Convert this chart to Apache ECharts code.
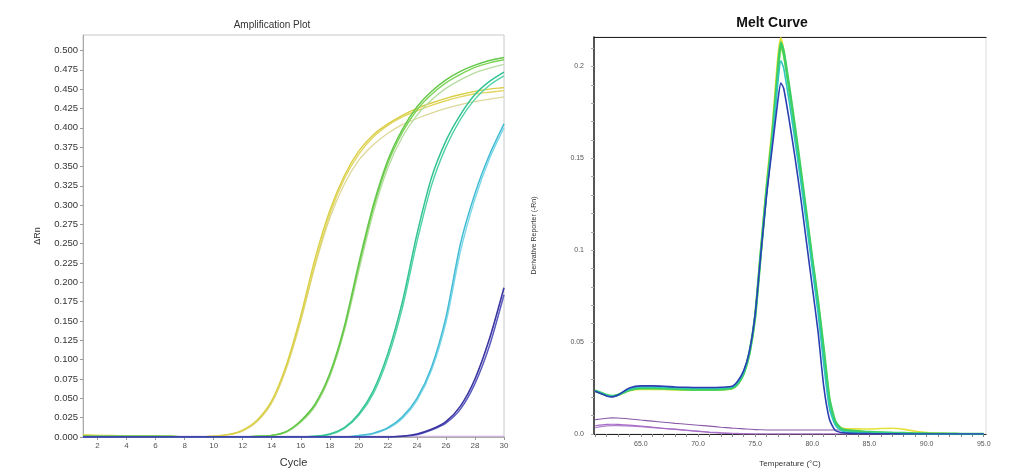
<!DOCTYPE html>
<html>
<head>
<meta charset="utf-8">
<script src="https://cdn.jsdelivr.net/npm/echarts@6/dist/echarts.min.js"></script>
<style>html,body{margin:0;padding:0;background:#fff;}#c{width:1021px;height:473px;}</style>
</head>
<body>
<div id="c"></div>
<script>
// ---------- Amplification plot data ----------
var ampCycles = [1,2,3,4,5,6,7,8,9,10,11,12,13,14,15,16,17,18,19,20,21,22,23,24,25,26,27,28,29,30];
var ampXLabels = [2,4,6,8,10,12,14,16,18,20,22,24,26,28,30];
var ampYLabels = [0,0.025,0.05,0.075,0.1,0.125,0.15,0.175,0.2,0.225,0.25,0.275,0.3,0.325,0.35,0.375,0.4,0.425,0.45,0.475,0.5];

var ampYellow1 = [0.003,0.002,0.002,0.001,0.001,0.001,0.001,0.000,0.000,0.001,0.003,0.009,0.022,0.047,0.093,0.157,0.232,0.293,0.338,0.370,0.391,0.405,0.416,0.425,0.432,0.438,0.443,0.447,0.450,0.452];
var ampYellow2 = [0.002,0.002,0.001,0.001,0.001,0.001,0.000,0.000,0.000,0.001,0.003,0.008,0.021,0.045,0.090,0.152,0.225,0.288,0.334,0.366,0.388,0.403,0.414,0.422,0.429,0.435,0.440,0.444,0.446,0.448];
var ampYellow3 = [0.002,0.001,0.001,0.001,0.001,0.000,0.000,0.000,0.000,0.001,0.003,0.008,0.020,0.044,0.088,0.150,0.222,0.283,0.327,0.358,0.378,0.393,0.404,0.412,0.419,0.425,0.430,0.434,0.437,0.440];
var ampGreen1 = [0.001,0.001,0.001,0.001,0.001,0.001,0.001,0.000,0.000,0.000,0.000,0.000,0.001,0.002,0.007,0.021,0.043,0.082,0.143,0.225,0.300,0.358,0.398,0.427,0.447,0.462,0.473,0.481,0.487,0.491];
var ampGreen2 = [0.001,0.001,0.001,0.001,0.001,0.001,0.000,0.000,0.000,0.000,0.000,0.000,0.001,0.002,0.006,0.019,0.040,0.078,0.137,0.215,0.290,0.348,0.388,0.416,0.436,0.451,0.462,0.471,0.477,0.482];
var ampGreen3 = [0.001,0.001,0.001,0.001,0.001,0.001,0.001,0.000,0.000,0.000,0.000,0.000,0.001,0.002,0.007,0.020,0.042,0.080,0.140,0.221,0.296,0.354,0.394,0.423,0.443,0.458,0.469,0.478,0.484,0.488];
var ampTeal1 = [0.000,0.000,0.000,0.000,0.000,0.000,0.000,0.000,0.000,0.000,0.000,0.000,0.000,0.000,0.000,0.000,0.001,0.004,0.012,0.030,0.060,0.108,0.175,0.262,0.335,0.383,0.417,0.443,0.460,0.472];
var ampTeal2 = [0.000,0.000,0.000,0.000,0.000,0.000,0.000,0.000,0.000,0.000,0.000,0.000,0.000,0.000,0.000,0.000,0.001,0.003,0.011,0.028,0.056,0.102,0.167,0.252,0.325,0.375,0.411,0.437,0.455,0.467];
var ampCyan1 = [0.000,0.000,0.000,0.000,0.000,0.000,0.000,0.000,0.000,0.000,0.000,0.000,0.000,0.000,0.000,0.000,0.000,0.000,0.000,0.002,0.005,0.012,0.026,0.050,0.090,0.155,0.250,0.315,0.365,0.405];
var ampCyan2 = [0.000,0.000,0.000,0.000,0.000,0.000,0.000,0.000,0.000,0.000,0.000,0.000,0.000,0.000,0.000,0.000,0.000,0.000,0.000,0.001,0.004,0.011,0.024,0.047,0.086,0.148,0.240,0.308,0.360,0.400];
var ampBlue1 = [0.000,0.000,0.000,0.000,0.000,0.000,0.000,0.000,0.000,0.000,0.000,0.000,0.000,0.000,0.000,0.000,0.000,0.000,0.000,0.000,0.000,0.000,0.001,0.004,0.010,0.020,0.040,0.075,0.127,0.193];
var ampBlue2 = [0.000,0.000,0.000,0.000,0.000,0.000,0.000,0.000,0.000,0.000,0.000,0.000,0.000,0.000,0.000,0.000,0.000,0.000,0.000,0.000,0.000,0.000,0.001,0.003,0.009,0.018,0.036,0.069,0.118,0.184];
var ampNtc = [0.001,0.001,0.001,0.001,0.001,0.001,0.001,0.001,0.001,0.001,0.001,0.001,0.001,0.001,0.001,0.001,0.001,0.001,0.001,0.001,0.001,0.001,0.001,0.001,0.001,0.001,0.001,0.001,0.001,0.001];

// ---------- Melt curve data ----------
var meltTemps = [61,62,62.5,63,64,65,66,67,68,69,70,71,72,73,73.5,74,74.5,75,75.5,76,76.5,77,77.25,77.5,78,78.5,79,79.5,80,80.5,81,81.5,82,82.5,83,84,85,86,87,88,89,90,91,92,93,94,95];
var meltXLabels = [65,70,75,80,85,90,95];
var meltYLabels = [0,0.05,0.1,0.15,0.2];

var meltYellow = [0.0236,0.0210,0.0206,0.0211,0.0236,0.0243,0.0243,0.0242,0.0240,0.0238,0.0238,0.0238,0.0239,0.0246,0.0272,0.0330,0.0445,0.0650,0.1010,0.1370,0.1680,0.2060,0.2155,0.2090,0.1870,0.1640,0.1410,0.1170,0.0930,0.0700,0.0430,0.0170,0.0060,0.0035,0.0028,0.0028,0.0027,0.0030,0.0031,0.0025,0.0015,0.0008,0.0005,0.0003,0.0001,0.0000,0.0000];
var meltGreen = [0.0235,0.0212,0.0207,0.0213,0.0240,0.0250,0.0250,0.0249,0.0246,0.0244,0.0243,0.0243,0.0244,0.0250,0.0275,0.0330,0.0440,0.0640,0.0990,0.1330,0.1620,0.1990,0.2130,0.2080,0.1880,0.1660,0.1430,0.1190,0.0950,0.0720,0.0460,0.0190,0.0070,0.0030,0.0020,0.0015,0.0010,0.0008,0.0006,0.0005,0.0003,0.0002,0.0001,0.0001,0.0000,0.0000,0.0000];
var meltLime = [0.0234,0.0211,0.0206,0.0212,0.0238,0.0246,0.0246,0.0245,0.0243,0.0241,0.0240,0.0240,0.0241,0.0248,0.0273,0.0328,0.0438,0.0636,0.0985,0.1325,0.1615,0.1975,0.2105,0.2060,0.1865,0.1650,0.1420,0.1185,0.0945,0.0715,0.0455,0.0185,0.0068,0.0030,0.0020,0.0014,0.0010,0.0008,0.0006,0.0004,0.0003,0.0002,0.0001,0.0000,0.0000,0.0000,0.0000];
var meltTeal = [0.0236,0.0210,0.0205,0.0212,0.0245,0.0256,0.0256,0.0255,0.0252,0.0250,0.0249,0.0249,0.0250,0.0256,0.0283,0.0338,0.0445,0.0645,0.0985,0.1315,0.1590,0.1920,0.2030,0.1990,0.1800,0.1590,0.1370,0.1140,0.0900,0.0660,0.0380,0.0140,0.0050,0.0020,0.0010,0.0007,0.0005,0.0004,0.0003,0.0002,0.0001,0.0001,0.0000,0.0000,0.0000,0.0000,0.0000];
var meltBlue = [0.0232,0.0207,0.0202,0.0212,0.0250,0.0262,0.0262,0.0260,0.0256,0.0254,0.0253,0.0253,0.0254,0.0260,0.0290,0.0345,0.0450,0.0650,0.0980,0.1300,0.1560,0.1820,0.1910,0.1880,0.1700,0.1500,0.1280,0.1040,0.0800,0.0560,0.0260,0.0080,0.0020,0.0008,0.0005,0.0003,0.0002,0.0001,0.0001,0.0000,0.0000,0.0000,0.0000,0.0000,0.0000,0.0000,0.0000];
var meltPurple1 = [0.0078,0.0086,0.0088,0.0087,0.0082,0.0076,0.0070,0.0064,0.0058,0.0053,0.0048,0.0043,0.0037,0.0032,0.0030,0.0028,0.0026,0.0024,0.0023,0.0022,0.0022,0.0022,0.0022,0.0022,0.0022,0.0022,0.0022,0.0022,0.0022,0.0022,0.0022,0.0022,0.0022,0.0022,0.0022,0.0015,0.0003,0.0000,0.0000,0.0000,0.0000,0.0000,0.0000,0.0000,0.0000,0.0000,0.0000];
var meltPurple2 = [0.0045,0.0052,0.0053,0.0052,0.0048,0.0043,0.0037,0.0031,0.0025,0.0019,0.0014,0.0009,0.0005,0.0002,0.0001,0.0000,0.0000,0.0000,0.0000,0.0000,0.0000,0.0000,0.0000,0.0000,0.0000,0.0000,0.0000,0.0000,0.0000,0.0000,0.0000,0.0000,0.0000,0.0000,0.0000,0.0000,0.0000,0.0000,0.0000,0.0000,0.0000,0.0000,0.0000,0.0000,0.0000,0.0000,0.0000];
var meltPurple3 = [0.0035,0.0044,0.0046,0.0046,0.0043,0.0040,0.0035,0.0030,0.0026,0.0021,0.0016,0.0011,0.0007,0.0004,0.0003,0.0002,0.0001,0.0000,0.0000,0.0000,0.0000,0.0000,0.0000,0.0000,0.0000,0.0000,0.0000,0.0000,0.0000,0.0000,0.0000,0.0000,0.0000,0.0000,0.0000,0.0000,0.0000,0.0000,0.0000,0.0000,0.0000,0.0000,0.0000,0.0000,0.0000,0.0000,0.0000];

function pairs(xs, ys){ return xs.map(function(x,i){ return [x, ys[i]]; }); }
function range(a, b, step){ var r=[]; for (var i=0; a+i*step <= b+1e-9; i++) r.push(+(a+i*step).toFixed(4)); return r; }

var FONT = 'Liberation Sans, Arial, sans-serif';

function ampLine(data, color, w){
  return { type:'line', xAxisIndex:0, yAxisIndex:0, data:pairs(ampCycles, data), showSymbol:false, smooth:0.25,
           lineStyle:{color:color, width:w||1.4}, silent:true };
}
function meltLine(data, color, w){
  return { type:'line', xAxisIndex:1, yAxisIndex:1, data:pairs(meltTemps, data), showSymbol:false, smooth:0.2,
           lineStyle:{color:color, width:w||1.4}, silent:true };
}

var chart = echarts.init(document.getElementById('c'), null, {renderer:'canvas'});
chart.setOption({
  animation:false,
  backgroundColor:'#fff',
  title:[
    {text:'Amplification Plot', left:267, top:15, textAlign:'center',
     textStyle:{fontFamily:FONT, fontSize:10, fontWeight:'normal', color:'#333'}},
    {text:'Melt Curve', left:767, top:11, textAlign:'center',
     textStyle:{fontFamily:FONT, fontSize:14, fontWeight:'bold', color:'#111'}}
  ],
  grid:[
    {left:83, right:517, top:35, bottom:36, show:true, borderColor:'#c8c8c8', borderWidth:1},
    {left:594, right:35, top:37, bottom:32, show:true, borderColor:'#dcdcdc', borderWidth:1}
  ],
  xAxis:[
    {type:'value', gridIndex:0, min:1, max:30,
     name:'Cycle', nameLocation:'middle', nameGap:20,
     nameTextStyle:{fontFamily:FONT, fontSize:11, color:'#333'},
     axisLine:{lineStyle:{color:'#aaa'}},
     axisTick:{customValues:ampXLabels, length:3, lineStyle:{color:'#999'}},
     axisLabel:{customValues:ampXLabels, fontFamily:FONT, fontSize:8, color:'#555', margin:5},
     splitLine:{show:false}},
    {type:'value', gridIndex:1, min:60.9, max:95.2,
     name:'Temperature (°C)', nameLocation:'middle', nameGap:26,
     nameTextStyle:{fontFamily:FONT, fontSize:8, color:'#333'},
     axisLine:{lineStyle:{color:'#222', width:1.2}},
     axisTick:{customValues:range(61,95,1), length:3, lineStyle:{color:'#888'}},
     axisLabel:{customValues:meltXLabels, fontFamily:FONT, fontSize:7, color:'#555', margin:7,
                formatter:function(v){ return v.toFixed(1); }},
     splitLine:{show:false}},
    {type:'value', gridIndex:1, min:60.9, max:95.2, position:'top',
     axisLine:{show:true, lineStyle:{color:'#222', width:1.2}},
     axisTick:{show:false}, axisLabel:{show:false}, splitLine:{show:false}}
  ],
  yAxis:[
    {type:'value', gridIndex:0, min:0, max:0.52,
     name:'ΔRn', nameLocation:'middle', nameGap:41, nameRotate:90,
     nameTextStyle:{fontFamily:FONT, fontSize:9, color:'#333'},
     axisLine:{show:true, lineStyle:{color:'#aaa'}},
     axisTick:{show:true, customValues:ampYLabels, length:3, lineStyle:{color:'#999'}},
     axisLabel:{customValues:ampYLabels, fontFamily:FONT, fontSize:9.5, color:'#333', margin:5,
                formatter:function(v){ return v.toFixed(3); }},
     splitLine:{show:false}},
    {type:'value', gridIndex:1, min:0, max:0.216,
     name:'Derivative Reporter (-Rn)', nameLocation:'middle', nameGap:56, nameRotate:90,
     nameTextStyle:{fontFamily:FONT, fontSize:7, color:'#333'},
     axisLine:{show:true, lineStyle:{color:'#222', width:1.5}},
     axisTick:{show:true, customValues:range(0,0.21,0.01), length:3, lineStyle:{color:'#aaa'}},
     axisLabel:{customValues:meltYLabels, fontFamily:FONT, fontSize:7, color:'#555', margin:10,
                formatter:function(v){ return v === 0 ? '0.0' : String(+v.toFixed(2)); }},
     splitLine:{show:false}}
  ],
  series:[
    ampLine(ampNtc, '#c9a6dd', 1.2),
    ampLine(ampYellow3, '#ddd89a', 1.3),
    ampLine(ampYellow2, '#e2d662', 1.4),
    ampLine(ampYellow1, '#d9cf45', 1.4),
    ampLine(ampGreen2, '#b6dca0', 1.3),
    ampLine(ampGreen3, '#7fd35a', 1.4),
    ampLine(ampGreen1, '#64c84a', 1.5),
    ampLine(ampTeal2, '#52d3a6', 1.4),
    ampLine(ampTeal1, '#33c492', 1.5),
    ampLine(ampCyan2, '#7ad7e6', 1.4),
    ampLine(ampCyan1, '#44bcd6', 1.5),
    ampLine(ampBlue2, '#5c5cc0', 1.5),
    ampLine(ampBlue1, '#3a35a0', 1.6),

    meltLine(meltPurple3, '#b283cf', 1.2),
    meltLine(meltPurple2, '#a66cc6', 1.2),
    meltLine(meltPurple1, '#8a5aa8', 1.1),
    meltLine(meltYellow, '#e3e23a', 1.6),
    meltLine(meltLime, '#8fe04a', 2),
    meltLine(meltGreen, '#3dcf62', 2.6),
    meltLine(meltTeal, '#2fc7c0', 1.6),
    meltLine(meltBlue, '#2b3fb0', 1.6)
  ]
});
</script>
</body>
</html>
